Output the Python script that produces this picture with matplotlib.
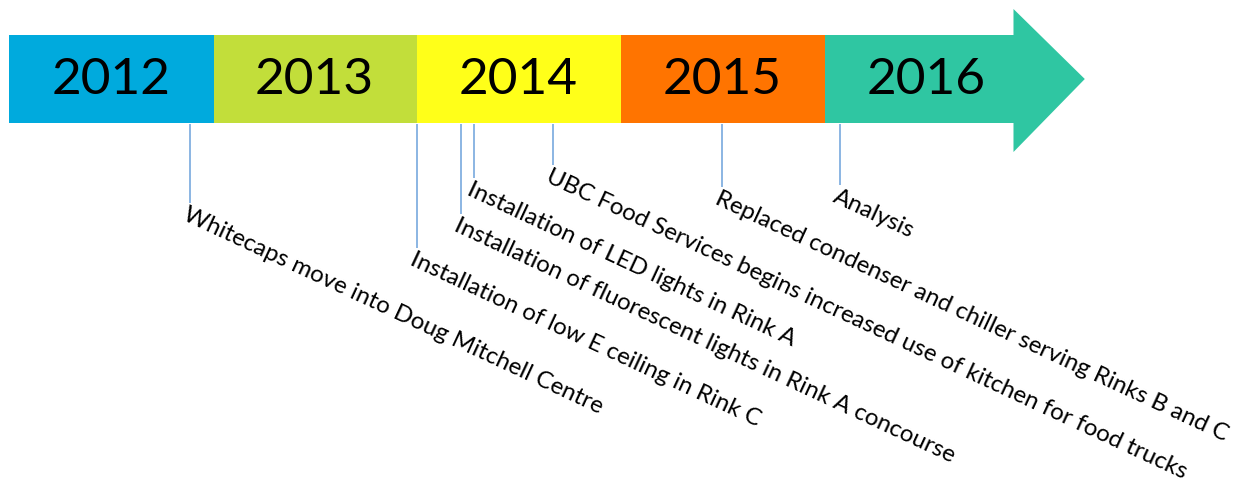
import matplotlib
matplotlib.use("Agg")
import matplotlib.pyplot as plt
from matplotlib.patches import Rectangle, Polygon

# ---- data ----
years = [2012, 2013, 2014, 2015, 2016]
year_colors = ["#00AADD", "#C2DE3A", "#FFFF19", "#FF7400", "#2FC6A2"]
events = [
    "Whitecaps move into Doug Mitchell Centre",
    "Installation of low E ceiling in Rink C",
    "Installation of fluorescent lights in Rink A concourse",
    "Installation of LED lights in Rink A",
    "UBC Food Services begins increased use of kitchen for food trucks",
    "Replaced condenser and chiller serving Rinks B and C",
    "Analysis",
]
event_times = [2012.89, 2014.00, 2014.22, 2014.28, 2014.67, 2015.50, 2016.08]

# ---- layout (pixel-like vertical units) ----
stem_ends = [203, 248, 214, 178, 165, 187, 185]
bar_top, bar_bot = 35, 123
head_top, head_bot = 9, 152
shaft_end, tip = 2016.93, 2017.28

W, H = 1247, 487
fig = plt.figure(figsize=(W / 100, H / 100), dpi=100)
ax = fig.add_axes([0, 0, 1, 1])
px_per_year = 203.75
x0 = 2012 - 9 / px_per_year
ax.set_xlim(x0, x0 + W / px_per_year)
ax.set_ylim(H, 0)
ax.axis("off")

mid = (bar_top + bar_bot) / 2
for i, (yr, col) in enumerate(zip(years, year_colors)):
    if i < len(years) - 1:
        ax.add_patch(Rectangle((yr, bar_top), 1.004, bar_bot - bar_top,
                               facecolor=col, edgecolor="none", zorder=2 + (len(years) - i) * 0.01))
    else:
        ax.add_patch(Polygon([(yr, bar_top), (shaft_end, bar_top), (shaft_end, head_top),
                              (tip, mid), (shaft_end, head_bot), (shaft_end, bar_bot),
                              (yr, bar_bot)], closed=True, facecolor=col, edgecolor="none",
                             zorder=2))
    ax.text(yr + 0.5, mid + 1, str(yr), ha="center", va="center", fontsize=37,
            family="Lato", color="black", zorder=5)

for label, t, ye in zip(events, event_times, stem_ends):
    ax.plot([t, t], [bar_bot + 1, ye], color="#78A9DE", lw=1.2, solid_capstyle="butt",
            zorder=1)
    ax.text(t - 0.005, ye + 1, label, rotation=-25, rotation_mode="anchor",
            ha="left", va="top", fontsize=17.4, family="Lato", color="black", zorder=5)

fig.savefig("out.png", dpi=100)
